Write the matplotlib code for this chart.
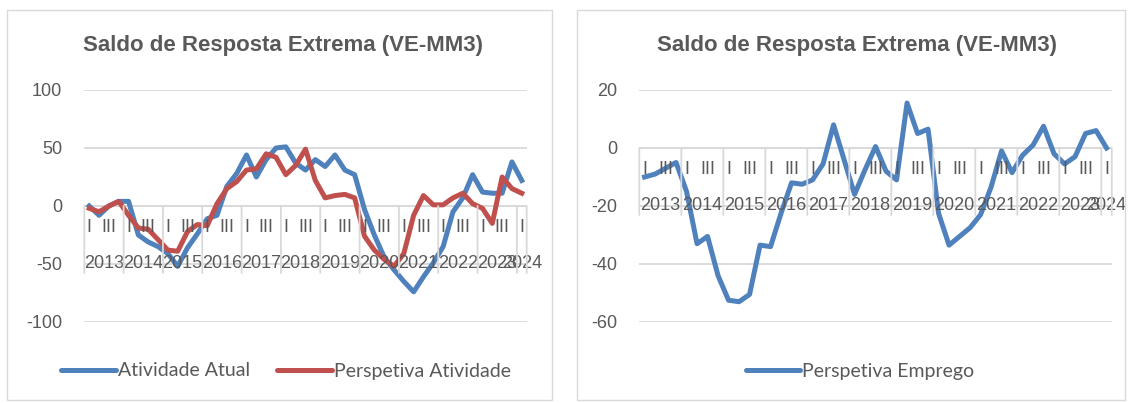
import matplotlib.pyplot as plt
from matplotlib.patches import Rectangle

# quarterly series, 2013 Q1 .. 2024 Q1
years = list(range(2013, 2025))
quarter_names = ["I", "II", "III", "IV"]

atividade_atual = [0, -8, 0, 4, 4, -25, -31, -35, -41, -52, -36, -24,
                   -11, -8, 17, 28, 44, 25, 40, 50, 51, 37, 31, 40,
                   34, 44, 31, 27, -3, -25, -44, -55, -65, -74, -61, -49,
                   -35, -5, 7, 27, 12, 11, 11, 38, 22]
perspetiva_atividade = [-2, -5, 0, 4, -8, -19, -20, -29, -38, -39, -22, -16,
                        -17, 2, 15, 21, 31, 32, 45, 42, 27, 35, 49, 22,
                        7, 9, 10, 7, -26, -38, -46, -52, -41, -8, 9, 1,
                        1, 7, 11, 2, -2, -15, 25, 15, 11]
perspetiva_emprego = [-10, -9, -7, -5, -15, -33, -30.5, -44, -52.5, -53, -50.5, -33.5,
                      -34, -22.5, -12, -12.5, -11, -5.5, 8, -4, -16, -7.5, 0.5, -8,
                      -11, 15.5, 5, 6.5, -22.5, -33.5, -30.5, -27.5, -23, -13.5, -1, -8.5,
                      -2.5, 1, 7.5, -2, -5.5, -3, 5, 6, 0]

W, H = 1131, 403
TXT = "#595959"
GRID = "#D9D9D9"
BLUE = "#4F81BD"
RED = "#C0504D"

plt.rcParams["font.family"] = ["Liberation Sans", "DejaVu Sans"]

fig = plt.figure(figsize=(W / 100, H / 100), dpi=100)


def px_axes(x0, x1, y_top, y_bot):
    return fig.add_axes([x0 / W, 1 - y_bot / H, (x1 - x0) / W, (y_bot - y_top) / H])


def category_axis(ax, n):
    # two-level category axis: quarters (I, III shown) and years, hung from the zero line
    for i in range(n):
        q = i % 4
        if q in (0, 2):
            ax.annotate(quarter_names[q], xy=(i, 0), xytext=(0, -21), textcoords="offset pixels",
                        ha="center", va="center", fontsize=13, color=TXT, annotation_clip=False)
    for k, yr in enumerate(years):
        start = 4 * k - 0.5
        end = min(4 * k + 3.5, n - 0.5)
        ax.annotate(str(yr), xy=((start + end) / 2, 0), xytext=(0, -57), textcoords="offset pixels",
                    ha="center", va="center", fontsize=13, color=TXT, annotation_clip=False)
    seps = [4 * k - 0.5 for k in range(len(years))] + [n - 0.5]
    for xs in seps:
        ax.annotate("", xy=(xs, 0), xytext=(0, -67), textcoords="offset pixels",
                    arrowprops=dict(arrowstyle="-", color=GRID, lw=1.3, shrinkA=0, shrinkB=0),
                    annotation_clip=False)


def style(ax, ticks, n):
    ax.set_xlim(-0.5, n - 0.5)
    ax.set_ylim(ticks[0], ticks[-1])
    ax.set_yticks(ticks)
    ax.set_yticklabels([str(t) for t in ticks])
    ax.tick_params(axis="y", length=0, pad=16, labelsize=13, labelcolor=TXT)
    ax.set_xticks([])
    for s in ax.spines.values():
        s.set_visible(False)
    ax.grid(axis="y", color=GRID, lw=1.3)
    ax.axhline(0, color=GRID, lw=1.3)
    ax.set_axisbelow(True)
    category_axis(ax, n)


n = len(atividade_atual)
x = list(range(n))

# left panel
ax1 = px_axes(84.3, 526.7, 90, 322)
style(ax1, [-100, -50, 0, 50, 100], n)
ax1.plot(x, atividade_atual, color=BLUE, lw=3.6, solid_joinstyle="round", label="Atividade Atual")
ax1.plot(x, perspetiva_atividade, color=RED, lw=3.6, solid_joinstyle="round", label="Perspetiva Atividade")

# right panel
ax2 = px_axes(639.3, 1111.8, 90, 322)
style(ax2, [-60, -40, -20, 0, 20], n)
ax2.plot(x, perspetiva_emprego, color=BLUE, lw=3.6, solid_joinstyle="round", label="Perspetiva Emprego")

for cx in (283, 857):
    fig.text(cx / W, 1 - 45 / H, "Saldo de Resposta Extrema (VE-MM3)", ha="center", va="center",
             fontsize=16, fontweight="bold", color=TXT)

for ax, cx in ((ax1, 286), (ax2, 860)):
    leg = ax.legend(loc="center", bbox_to_anchor=(cx / W, 1 - 371 / H), bbox_transform=fig.transFigure,
                    ncol=2, frameon=False, handlelength=2.8, handletextpad=0.1, columnspacing=1.4,
                    prop={"family": ["Lato", "DejaVu Sans"], "size": 14})
    for t in leg.get_texts():
        t.set_color(TXT)
    for h in leg.legend_handles:
        h.set_solid_capstyle("round")

# panel borders
for x0, x1 in ((7, 552), (577, 1125)):
    fig.patches.append(Rectangle((x0 / W, 1 - 400 / H), (x1 - x0) / W, 390 / H,
                                 transform=fig.transFigure, fill=False, edgecolor=GRID, lw=1))

fig.savefig("out.png", dpi=100)
